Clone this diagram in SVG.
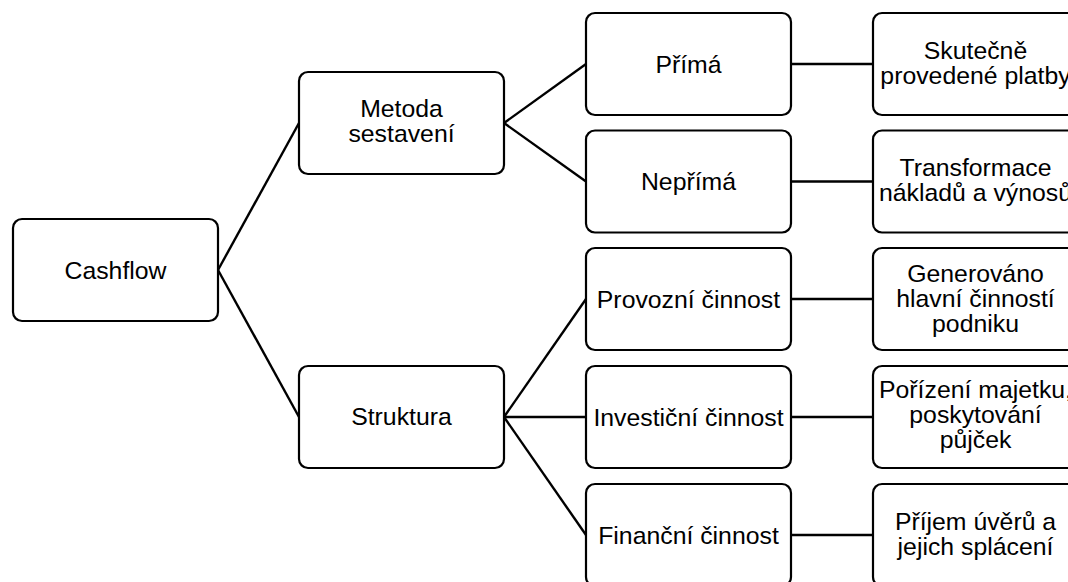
<svg xmlns="http://www.w3.org/2000/svg" width="1068" height="582" viewBox="0 0 1068 582">
<style>
.box{fill:#fff;stroke:#000;stroke-width:2.2}
.t{font-family:"Liberation Sans",Arial,sans-serif;font-size:24.8px;fill:#000;text-anchor:middle}
.c{stroke:#000;stroke-width:2.4;fill:none}
</style>
<rect width="1068" height="582" fill="#fff"/>
<g id="connectors">
<line class="c" x1="218" y1="270" x2="299" y2="123"/>
<line class="c" x1="218" y1="270" x2="299" y2="417"/>
<line class="c" x1="504" y1="123" x2="586" y2="64"/>
<line class="c" x1="504" y1="123" x2="586" y2="181.5"/>
<line class="c" x1="504" y1="417" x2="586" y2="299"/>
<line class="c" x1="504" y1="417" x2="586" y2="417"/>
<line class="c" x1="504" y1="417" x2="586" y2="535"/>
<line class="c" x1="791" y1="64" x2="873" y2="64"/>
<line class="c" x1="791" y1="181.5" x2="873" y2="181.5"/>
<line class="c" x1="791" y1="299" x2="873" y2="299"/>
<line class="c" x1="791" y1="417" x2="873" y2="417"/>
<line class="c" x1="791" y1="535" x2="873" y2="535"/>
</g>
<g id="cashflow"><rect class="box" x="13" y="219" width="205" height="102" rx="9"/><text class="t" x="115.5" y="278.5">Cashflow</text></g>
<g id="metoda"><rect class="box" x="299" y="72" width="205" height="102" rx="9"/><text class="t" x="401.5" y="117">Metoda</text><text class="t" x="401.5" y="142">sestavení</text></g>
<g id="struktura"><rect class="box" x="299" y="366" width="205" height="102" rx="9"/><text class="t" x="401.5" y="425">Struktura</text></g>
<g id="prima"><rect class="box" x="586" y="13" width="205" height="102" rx="9"/><text class="t" x="688.5" y="72.5">Přímá</text></g>
<g id="neprima"><rect class="box" x="586" y="130.5" width="205" height="102" rx="9"/><text class="t" x="688.5" y="190">Nepřímá</text></g>
<g id="provozni"><rect class="box" x="586" y="248" width="205" height="102" rx="9"/><text class="t" x="688.5" y="307.5">Provozní činnost</text></g>
<g id="investicni"><rect class="box" x="586" y="366" width="205" height="102" rx="9"/><text class="t" x="688.5" y="425.5">Investiční činnost</text></g>
<g id="financni"><rect class="box" x="586" y="484" width="205" height="102" rx="9"/><text class="t" x="688.5" y="543.5">Finanční činnost</text></g>
<g id="skutecne"><rect class="box" x="873" y="13" width="205" height="102" rx="9"/><text class="t" x="975.5" y="58.5">Skutečně</text><text class="t" x="975.5" y="83.5">provedené platby</text></g>
<g id="transformace"><rect class="box" x="873" y="130.5" width="205" height="102" rx="9"/><text class="t" x="975.5" y="176">Transformace</text><text class="t" x="975.5" y="201">nákladů a výnosů</text></g>
<g id="generovano"><rect class="box" x="873" y="248" width="205" height="102" rx="9"/><text class="t" x="975.5" y="282">Generováno</text><text class="t" x="975.5" y="307">hlavní činností</text><text class="t" x="975.5" y="332">podniku</text></g>
<g id="porizeni"><rect class="box" x="873" y="366" width="205" height="102" rx="9"/><text class="t" x="975.5" y="398">Pořízení majetku,</text><text class="t" x="975.5" y="423">poskytování</text><text class="t" x="975.5" y="448">půjček</text></g>
<g id="prijem"><rect class="box" x="873" y="484" width="205" height="102" rx="9"/><text class="t" x="975.5" y="530">Příjem úvěrů a</text><text class="t" x="975.5" y="555">jejich splácení</text></g>
</svg>
